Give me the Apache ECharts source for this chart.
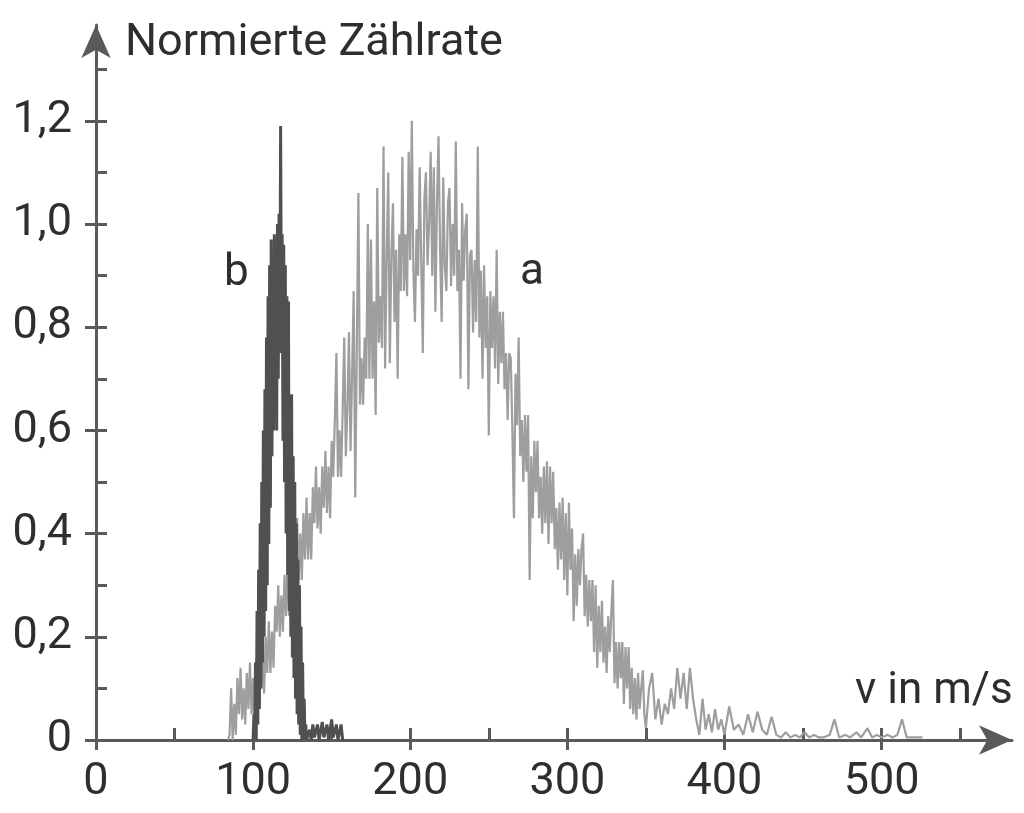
<!DOCTYPE html>
<html lang="de">
<head>
<meta charset="UTF-8">
<title>Normierte Zählrate</title>
<script src="https://cdn.jsdelivr.net/npm/echarts@6/dist/echarts.min.js"></script>
<style>
  html, body { margin: 0; padding: 0; background: #fff; }
  #main { width: 1024px; height: 813px; }
</style>
</head>
<body>
<div id="main"></div>
<script type="text/javascript">
// Achsen-Ticks
var xTicks = [0, 50, 100, 150, 200, 250, 300, 350, 400, 450, 500, 550];
var xLabels = [0, 100, 200, 300, 400, 500];
var yTicks = [0, 0.1, 0.2, 0.3, 0.4, 0.5, 0.6, 0.7, 0.8, 0.9, 1.0, 1.1, 1.2, 1.3];
var yLabels = [0, 0.2, 0.4, 0.6, 0.8, 1.0, 1.2];

// Kurve a: [v in m/s, normierte Zählrate]
var curveA = [
  [84, 0.0], [85, 0.01], [86, 0.10], [87, 0.0], [88, 0.07], [89, 0.01], [90, 0.12], [91, 0.05],
  [92, 0.14], [93, 0.04], [94, 0.10], [95, 0.03], [96, 0.13], [97, 0.06], [98, 0.15], [99, 0.05],
  [100, 0.12], [101, 0.04], [102, 0.16], [103, 0.11], [104, 0.19], [105, 0.10], [106, 0.17], [107, 0.09],
  [108, 0.20], [109, 0.13], [110, 0.23], [111, 0.13], [112, 0.21], [113, 0.14], [114, 0.26], [115, 0.21],
  [116, 0.30], [117, 0.20], [118, 0.28], [119, 0.21], [120, 0.32], [121, 0.24], [122, 0.36], [123, 0.24],
  [124, 0.33], [125, 0.24], [126, 0.39], [127, 0.32], [128, 0.43], [129, 0.31], [130, 0.40], [131, 0.31],
  [132, 0.44], [133, 0.35], [134, 0.47], [135, 0.35], [136, 0.44], [137, 0.35], [138, 0.49], [139, 0.42],
  [140, 0.53], [141, 0.41], [142, 0.49], [143, 0.40], [144, 0.53], [145, 0.45], [146, 0.56], [147, 0.44],
  [148, 0.53], [149, 0.43], [150, 0.58], [151, 0.51], [152, 0.62], [153, 0.75], [154, 0.51], [155, 0.60],
  [156, 0.51], [157, 0.64], [158, 0.78], [159, 0.55], [160, 0.64], [161, 0.79], [162, 0.56], [163, 0.71],
  [164, 0.87], [165, 0.47], [166, 0.76], [167, 1.06], [168, 0.65], [169, 0.74], [170, 0.65], [171, 0.78],
  [172, 0.70], [173, 1.00], [174, 0.70], [175, 0.97], [176, 0.70], [177, 0.85], [178, 0.63], [179, 1.07],
  [180, 0.77], [181, 0.86], [182, 0.76], [183, 1.15], [184, 0.72], [185, 0.93], [186, 1.10], [187, 0.73],
  [188, 0.94], [189, 1.04], [190, 0.81], [191, 0.95], [192, 0.70], [193, 0.98], [194, 0.87], [195, 1.13],
  [196, 0.87], [197, 0.98], [198, 0.86], [199, 1.14], [200, 0.93], [201, 1.20], [202, 0.91], [203, 0.81],
  [204, 0.99], [205, 0.90], [206, 1.11], [207, 0.93], [208, 0.75], [209, 1.05], [210, 1.10], [211, 0.92],
  [212, 1.00], [213, 1.14], [214, 0.90], [215, 1.11], [216, 0.83], [217, 1.04], [218, 1.17], [219, 0.95],
  [220, 0.81], [221, 1.09], [222, 0.92], [223, 0.87], [224, 1.04], [225, 1.07], [226, 0.88], [227, 1.00],
  [228, 0.90], [229, 1.16], [230, 0.87], [231, 0.95], [232, 0.70], [233, 1.04], [234, 0.89], [235, 0.99],
  [236, 1.02], [237, 0.68], [238, 0.94], [239, 0.95], [240, 0.79], [241, 0.93], [242, 0.81], [243, 1.15],
  [244, 0.78], [245, 0.91], [246, 0.70], [247, 0.92], [248, 0.76], [249, 0.86], [250, 0.59], [251, 0.87],
  [252, 0.76], [253, 0.86], [254, 0.72], [255, 0.95], [256, 0.69], [257, 0.83], [258, 0.73], [259, 0.83],
  [260, 0.68], [261, 0.75], [262, 0.62], [263, 0.75], [264, 0.74], [265, 0.60], [266, 0.43], [267, 0.71],
  [268, 0.61], [269, 0.78], [270, 0.55], [271, 0.62], [272, 0.50], [273, 0.63], [274, 0.52], [275, 0.63],
  [276, 0.31], [277, 0.55], [278, 0.43], [279, 0.58], [280, 0.48], [281, 0.58], [282, 0.43], [283, 0.51],
  [284, 0.40], [285, 0.53], [286, 0.42], [287, 0.54], [288, 0.38], [289, 0.53], [290, 0.42], [291, 0.52],
  [292, 0.37], [293, 0.45], [294, 0.33], [295, 0.46], [296, 0.35], [297, 0.47], [298, 0.31], [299, 0.44],
  [300, 0.28], [301, 0.46], [302, 0.33], [303, 0.41], [304, 0.23], [305, 0.36], [306, 0.26], [307, 0.37],
  [308, 0.30], [309, 0.37], [310, 0.40], [311, 0.24], [312, 0.32], [313, 0.22], [314, 0.31], [315, 0.23],
  [316, 0.31], [317, 0.17], [318, 0.30], [319, 0.14], [320, 0.26], [321, 0.17], [322, 0.27], [323, 0.15],
  [324, 0.22], [325, 0.13], [326, 0.24], [327, 0.17], [328, 0.25], [329, 0.31], [330, 0.11], [331, 0.19],
  [332, 0.10], [333, 0.19], [334, 0.12], [335, 0.19], [336, 0.07], [337, 0.18], [338, 0.10], [339, 0.18],
  [340, 0.06], [341, 0.14], [342, 0.05], [343, 0.12], [344, 0.04], [345, 0.13], [346, 0.06], [347, 0.10],
  [348, 0.135], [349, 0.05], [350, 0.023], [352, 0.1], [354, 0.13], [356, 0.04], [358, 0.08], [360, 0.03],
  [362, 0.07], [364, 0.05], [366, 0.1], [368, 0.06], [370, 0.14], [372, 0.08], [374, 0.13], [376, 0.06],
  [378, 0.14], [380, 0.08], [382, 0.04], [384, 0.01], [386, 0.08], [388, 0.02], [390, 0.05], [392, 0.015],
  [394, 0.06], [396, 0.02], [398, 0.04], [400, 0.01],
  [403, 0.065], [406, 0.02], [409, 0.03], [412, 0.01], [415, 0.05], [418, 0.015], [421, 0.055], [424, 0.02],
  [427, 0.01], [430, 0.045], [433, 0.01], [436, 0.005], [439, 0.015], [442, 0.005], [445, 0.01], [448, 0.005],
  [451, 0.015], [454, 0.005], [457, 0.01], [460, 0.005], [463, 0.005], [467, 0.01], [470, 0.04], [473, 0.005],
  [477, 0.01], [480, 0.005], [484, 0.015], [487, 0.005], [491, 0.023], [494, 0.005], [497, 0.01], [500, 0.005],
  [504, 0.01], [507, 0.005], [510, 0.01], [513, 0.04], [516, 0.005], [520, 0.005], [526, 0.005]
];

// Kurve b
var curveB = [
  [100, 0.0], [100.5, 0.05], [101, 0.0], [101.5, 0.15], [102, 0.0], [102.5, 0.25], [103, 0.03], [103.5, 0.33],
  [104, 0.06], [104.5, 0.42], [105, 0.1], [105.5, 0.5], [106, 0.15], [106.5, 0.6], [107, 0.2], [107.5, 0.68],
  [108, 0.25], [108.5, 0.78], [109, 0.3], [109.5, 0.86], [110, 0.38], [110.5, 0.92], [111, 0.45], [111.5, 0.97],
  [112, 0.55], [112.5, 0.9], [113, 0.6], [113.5, 0.98], [114, 0.65], [114.5, 0.93], [115, 0.6], [115.5, 1.0],
  [116, 0.7], [116.5, 1.02], [117, 0.75], [117.5, 1.19], [118, 0.8], [118.5, 0.98], [119, 0.58], [119.5, 0.96],
  [120, 0.5], [120.5, 0.92], [121, 0.4], [121.5, 0.86], [122, 0.32], [122.5, 0.85], [123, 0.25], [123.5, 0.67],
  [124, 0.2], [124.5, 0.67], [125, 0.16], [125.5, 0.55], [126, 0.12], [126.5, 0.5], [127, 0.08], [127.5, 0.42],
  [128, 0.05], [128.5, 0.35], [129, 0.03], [129.5, 0.3], [130, 0.01], [130.5, 0.22], [131, 0.0], [131.5, 0.15],
  [132, 0.0], [132.5, 0.08], [133, 0.0], [133.5, 0.03], [134, 0.0], [136, 0.02], [137, 0.0], [138, 0.03],
  [139, 0.005], [141, 0.03], [142, 0.0], [144, 0.035], [145, 0.005], [147, 0.03], [148, 0.0], [150, 0.04],
  [151, 0.005], [153, 0.03], [154, 0.0], [156, 0.03], [157, 0.0]
];

var axisColor = '#5a5a5a';
var textColor = '#2e2e2e';
var fontFamily = 'Roboto, "Noto Sans", sans-serif';

var chart = echarts.init(document.getElementById('main'));

var option = {
    backgroundColor: '#ffffff',
    animation: false,
    grid: { left: 96, right: 12, top: 25, bottom: 73 },
    xAxis: [{
        type: 'value',
        min: 0,
        max: 583,
        position: 'bottom',
        splitLine: { show: false },
        axisLine: {
            show: true,
            symbol: ['none', 'arrow'],
            symbolSize: [22, 33],
            lineStyle: { color: axisColor, width: 3 }
        },
        axisTick: {
            show: true,
            inside: true,
            length: 12,
            customValues: xTicks,
            lineStyle: { color: axisColor, width: 3 }
        },
        axisLabel: {
            customValues: xLabels,
            margin: 20,
            fontSize: 45,
            fontFamily: fontFamily,
            color: textColor
        }
    }, {
        type: 'value',
        min: 0,
        max: 583,
        position: 'bottom',
        splitLine: { show: false },
        axisLine: { show: false },
        axisTick: {
            show: true,
            inside: false,
            length: 10,
            customValues: xLabels,
            lineStyle: { color: axisColor, width: 3 }
        },
        axisLabel: { show: false }
    }],
    yAxis: [{
        type: 'value',
        min: 0,
        max: 1.3857,
        position: 'left',
        splitLine: { show: false },
        axisLine: {
            show: true,
            symbol: ['none', 'arrow'],
            symbolSize: [22, 33],
            lineStyle: { color: axisColor, width: 3 }
        },
        axisTick: {
            show: true,
            inside: true,
            length: 11,
            customValues: yTicks,
            lineStyle: { color: axisColor, width: 3 }
        },
        axisLabel: {
            customValues: yLabels,
            margin: 24,
            fontSize: 45,
            fontFamily: fontFamily,
            color: textColor,
            formatter: function (v) {
                return v === 0 ? '0' : v.toFixed(1).replace('.', ',');
            }
        }
    }, {
        type: 'value',
        min: 0,
        max: 1.3857,
        position: 'left',
        splitLine: { show: false },
        axisLine: { show: false },
        axisTick: {
            show: true,
            inside: false,
            length: 11,
            customValues: yLabels,
            lineStyle: { color: axisColor, width: 3 }
        },
        axisLabel: { show: false }
    }],
    graphic: [
        { type: 'text', left: 125, top: 21, style: { text: 'Normierte Zählrate', fontSize: 45, fontFamily: fontFamily, fill: textColor } },
        { type: 'text', left: 855, top: 670, style: { text: 'v in m/s', fontSize: 44, fontFamily: fontFamily, fill: textColor } },
        { type: 'text', left: 224, top: 252, style: { text: 'b', fontSize: 44, fontFamily: fontFamily, fill: textColor } },
        { type: 'text', left: 520, top: 251, style: { text: 'a', fontSize: 44, fontFamily: fontFamily, fill: textColor } }
    ],
    series: [{
        name: 'a',
        type: 'line',
        data: curveA,
        showSymbol: false,
        lineStyle: { color: '#9e9e9e', width: 2.2 },
        z: 2
    }, {
        name: 'b',
        type: 'line',
        data: curveB,
        showSymbol: false,
        lineStyle: { color: '#505050', width: 3 },
        z: 3
    }]
};

chart.setOption(option);
</script>
</body>
</html>
